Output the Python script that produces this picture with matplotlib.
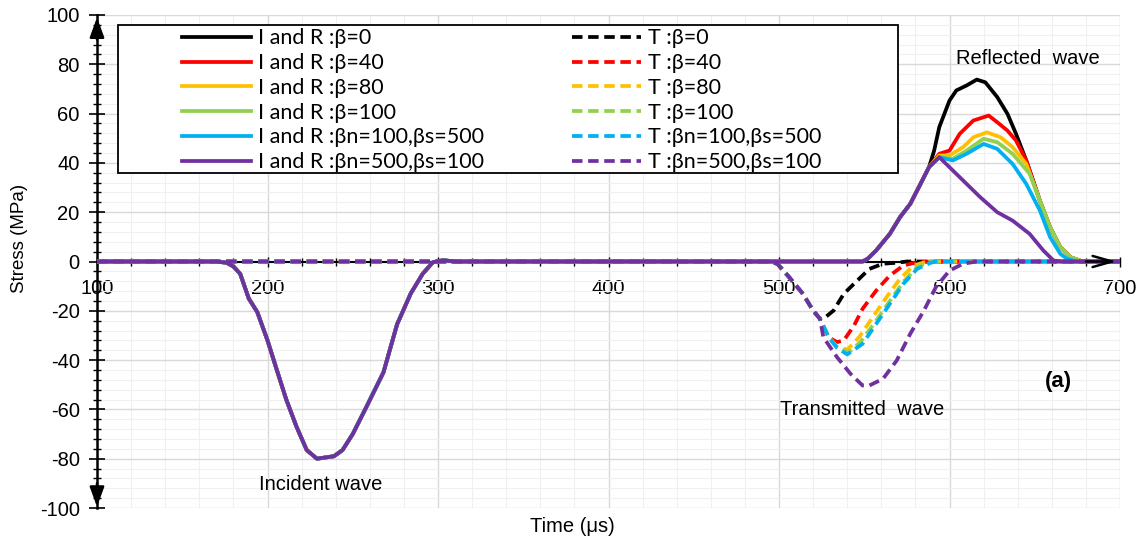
import numpy as np
import matplotlib
matplotlib.use('Agg')
import matplotlib.pyplot as plt
from matplotlib.patches import Rectangle
from matplotlib.ticker import MultipleLocator

plt.rcParams['font.family'] = ['Liberation Sans', 'DejaVu Sans']
plt.rcParams['axes.unicode_minus'] = False

# incident pulse (same for every I and R series)
inc_time = [100, 170, 176, 180, 184, 189, 194, 200, 205, 211, 217, 223, 229, 234, 239,
            244, 250, 258, 268, 276, 284, 291, 297, 303, 310, 320]
inc_stress = [0, 0, -0.5, -2, -5, -15, -20.5, -32, -43, -56, -67, -76.5, -80, -79.5, -79,
              -76.5, -70, -59, -45, -25.5, -13, -5, -0.3, 0.5, 0, 0]

# shared rising edge of the reflected pulse
rise_time = [330, 549, 552, 557, 565, 571, 577, 583, 588]
rise_stress = [0, 0, 1.1, 4.5, 11.2, 18, 23.4, 31.5, 38.3]

# reflected tails
ref_time_b0 = [591, 594, 600, 604, 610, 616, 621, 628, 634, 639, 645, 653, 659, 665, 671, 678, 700]
ref_stress_b0 = [45, 54.5, 65.3, 69.4, 71.4, 73.8, 72.7, 66.7, 59.9, 51.8, 41, 24.7, 13.9, 5.8, 1.7, 0, 0]
ref_time_b40 = [594, 600, 606, 614, 623, 628, 634, 639, 645, 653, 659, 665, 671, 678, 700]
ref_stress_b40 = [43.7, 45, 51.8, 57.2, 59.2, 56.5, 53.1, 49.1, 41, 24.7, 13.9, 5.8, 1.7, 0, 0]
ref_time_b80 = [594, 600, 608, 614, 622, 630, 637, 645, 653, 659, 665, 671, 678, 700]
ref_stress_b80 = [43, 43, 46.4, 50.4, 52.4, 50.4, 46.4, 39.6, 24.7, 13.9, 5.8, 1.7, 0, 0]
ref_time_b100 = [594, 602, 610, 620, 628, 637, 647, 653, 659, 665, 671, 678, 700]
ref_stress_b100 = [42.3, 41.7, 45, 49.8, 48.4, 43.7, 35.6, 24.7, 13.9, 5.8, 1.7, 0, 0]
ref_time_n100 = [594, 602, 610, 620, 628, 637, 645, 653, 659, 665, 669, 675, 700]
ref_stress_n100 = [42.3, 41, 43.7, 47.7, 45.7, 39.6, 31.5, 20.7, 9.9, 3.1, 1.1, 0, 0]
ref_time_n500 = [594, 602, 610, 618, 628, 637, 647, 655, 661, 666, 700]
ref_stress_n500 = [42.3, 36.9, 31.5, 26.1, 20, 16.6, 11.2, 4.5, 0.4, 0, 0]

# transmitted pulses: shared leading edge, then tails
tr_time = [100, 494, 499, 506, 514, 520, 524]
tr_stress = [0, 0, -0.9, -6.4, -13.1, -19.9, -23.2]
tr_time_b0 = [526, 532, 538, 546, 553, 561, 569, 575, 700]
tr_stress_b0 = [-23.3, -19.9, -13.1, -7.7, -3, -0.9, -0.5, 0, 0]
tr_time_b40 = [529, 534, 538, 544, 549, 557, 565, 573, 581, 590, 700]
tr_stress_b40 = [-30.7, -32.7, -32, -26, -19.2, -11.8, -5.7, -1.6, -0.3, 0, 0]
tr_time_b80 = [529, 534, 540, 547, 555, 563, 571, 579, 587, 700]
tr_stress_b80 = [-30.5, -34.5, -35.8, -30.7, -22.6, -14.5, -7, -1.6, 0, 0]
tr_time_b100 = [529, 534, 541, 548, 557, 565, 573, 581, 589, 700]
tr_stress_b100 = [-30.5, -35, -36.8, -32.5, -24, -16, -8.2, -2.3, 0, 0]
tr_time_n100 = [529, 534, 540, 549, 557, 565, 573, 581, 589, 592, 700]
tr_stress_n100 = [-30.5, -35, -37.7, -33.4, -25.3, -17.2, -9, -3, -0.5, 0, 0]
tr_time_n500 = [526, 534, 542, 549, 553, 561, 569, 577, 585, 592, 600, 608, 616, 700]
tr_stress_n500 = [-30.7, -38.8, -45.6, -50.3, -50.3, -47.6, -40.2, -29.3, -19.9, -10.4, -3.7, -0.9, 0, 0]

case_names = ['β=0', 'β=40', 'β=80', 'β=100', 'βn=100,βs=500', 'βn=500,βs=100']
colors = ['#000000', '#ff0000', '#ffc000', '#92d050', '#00b0f0', '#7030a0']
ref_tails = [(ref_time_b0, ref_stress_b0), (ref_time_b40, ref_stress_b40),
             (ref_time_b80, ref_stress_b80), (ref_time_b100, ref_stress_b100),
             (ref_time_n100, ref_stress_n100), (ref_time_n500, ref_stress_n500)]
tr_tails = [(tr_time_b0, tr_stress_b0), (tr_time_b40, tr_stress_b40),
            (tr_time_b80, tr_stress_b80), (tr_time_b100, tr_stress_b100),
            (tr_time_n100, tr_stress_n100), (tr_time_n500, tr_stress_n500)]

W, H = 1145, 549
fig = plt.figure(figsize=(W / 100, H / 100), dpi=100)
ax = fig.add_axes([97 / W, 41 / H, 1023 / W, 493 / H])

solid_handles, dash_handles = [], []
for name, col, (rt, rs), (tt, ts) in zip(case_names, colors, ref_tails, tr_tails):
    t_ir = np.r_[inc_time, rise_time, rt]
    s_ir = np.r_[inc_stress, rise_stress, rs]
    t_t = np.r_[tr_time, tt]
    s_t = np.r_[tr_stress, ts]
    h1, = ax.plot(t_ir, s_ir, color=col, lw=2.7, zorder=3, label=f'I and R :{name}')
    h2, = ax.plot(t_t, s_t, color=col, lw=2.7, ls=(0, (2.8, 1.5)), zorder=3, label=f'T :{name}')
    solid_handles.append(h1)
    dash_handles.append(h2)

ax.set_xlim(100, 700)
ax.set_ylim(-100, 100)
ax.xaxis.set_major_locator(MultipleLocator(100))
ax.xaxis.set_minor_locator(MultipleLocator(20))
ax.yaxis.set_major_locator(MultipleLocator(20))
ax.yaxis.set_minor_locator(MultipleLocator(4))
ax.grid(which='major', color='#d9d9d9', lw=1.0)
ax.grid(which='minor', color='#f0f0f0', lw=0.8)
ax.set_axisbelow(True)

for s in ['top', 'right']:
    ax.spines[s].set_visible(False)
ax.spines['bottom'].set_position(('data', 0))
ax.spines['bottom'].set_linewidth(1.5)
ax.spines['left'].set_linewidth(1.8)

ax.tick_params(axis='y', which='major', direction='inout', length=11, width=1.2,
               labelsize=14.5, pad=7)
ax.tick_params(axis='y', which='minor', direction='inout', length=6, width=1.0)
ax.tick_params(axis='x', which='major', direction='inout', length=7, width=1.0,
               labelsize=14.5, pad=9)
ax.tick_params(axis='x', which='minor', direction='inout', length=6, width=1.0)

# axis arrows
head = dict(color='black', lw=1.8, shrinkA=0, shrinkB=0, mutation_scale=20)
ax.annotate('', xy=(100, 99), xytext=(100, 90), annotation_clip=False,
            arrowprops=dict(arrowstyle='-|>,head_length=0.6,head_width=0.22', **head))
ax.annotate('', xy=(100, -99.5), xytext=(100, -90), annotation_clip=False,
            arrowprops=dict(arrowstyle='-|>,head_length=0.6,head_width=0.22', **head))
ax.annotate('', xy=(698, 0), xytext=(680, 0), annotation_clip=False,
            arrowprops=dict(arrowstyle='->,head_length=0.7,head_width=0.2', **head))

fig.text(20 / W, 1 - 238 / H, 'Stress (MPa)', rotation=90, ha='center', va='center', fontsize=13.5)
fig.text(572 / W, 1 - 527 / H, 'Time (μs)', ha='center', va='center', fontsize=14.5)

ax.text(646, 82.5, 'Reflected  wave', ha='center', va='center', fontsize=14.5)
ax.text(549, -60, 'Transmitted  wave', ha='center', va='center', fontsize=14.5)
ax.text(231, -90.5, 'Incident wave', ha='center', va='center', fontsize=14.5)
ax.text(664, -48.5, '(a)', ha='center', va='center', fontsize=16, fontweight='bold')

# legend box and two legend columns
box = Rectangle((118 / W, 1 - 173 / H), 780 / W, 148 / H, transform=fig.transFigure,
                facecolor='white', edgecolor='black', lw=1.3, zorder=5)
fig.patches.append(box)
leg_font = dict(family=['Lato', 'DejaVu Sans'], size=15.5)
leg1 = fig.legend(handles=solid_handles, loc='upper left', bbox_to_anchor=(182 / W, 1 - 28.5 / H),
                  frameon=False, prop=leg_font, handlelength=3.2, handletextpad=0.35,
                  labelspacing=0.22, borderpad=0, borderaxespad=0)
leg2 = fig.legend(handles=dash_handles, loc='upper left', bbox_to_anchor=(572 / W, 1 - 28.5 / H),
                  frameon=False, prop=leg_font, handlelength=3.2, handletextpad=0.35,
                  labelspacing=0.22, borderpad=0, borderaxespad=0)
leg1.set_zorder(6)
leg2.set_zorder(6)

fig.savefig('out.png', dpi=100)
